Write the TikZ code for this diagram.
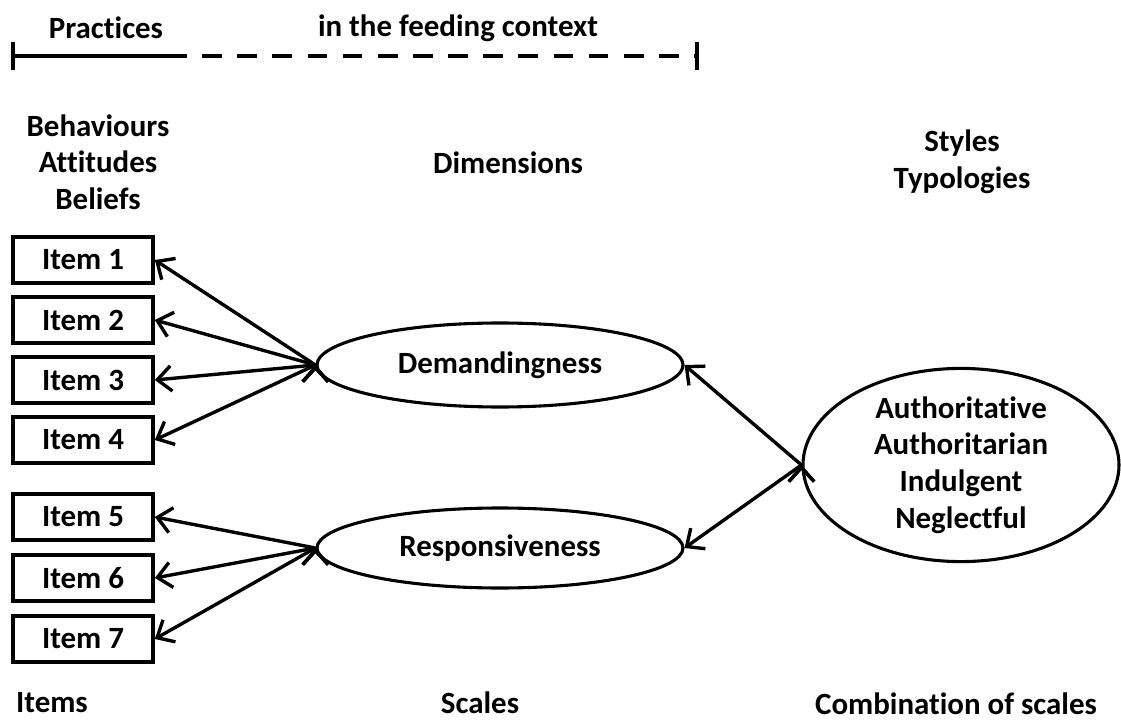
\documentclass[tikz,border=0pt]{standalone}
\usepackage{fontspec}
\setmainfont{Carlito}[RawFeature=-liga]
\usetikzlibrary{shapes.geometric,arrows.meta,positioning}
\tikzset
{
    lbl/.style      = {align=center, font=\bfseries\fontsize{22}{26}\selectfont, inner sep=0pt},
    itembox/.style  = {rectangle, draw=black, line width=2.6pt, minimum width=3.5cm, minimum height=1.15cm, inner sep=0pt, font=\bfseries\fontsize{22}{26}\selectfont},
    scalenode/.style = {ellipse, draw=black, line width=2.2pt, inner sep=0pt, align=center, font=\bfseries\fontsize{22}{26}\selectfont}
}

\begin{document}
\begin{tikzpicture}[->,>={Straight Barb[length=10pt,width=18pt]},line width=2.4pt]
\useasboundingbox (0,0) rectangle (28.025,-18.05);
% top bar
\draw [-,line width=3pt] (0.325,-1.05) -- (0.325,-1.75);
\draw [-,line width=3pt] (0.325,-1.4) -- (4.175,-1.4);
\draw [-,line width=3pt,dash pattern=on 14pt off 11pt] (4.175,-1.4) -- (17.425,-1.4);
\draw [-,line width=3pt] (17.425,-1.05) -- (17.425,-1.75);
\node [lbl] at (2.65,-0.7) (prac) {Practices};
\node [lbl] at (11.45,-0.7) (ctx) {in the feeding context};
% column heads
\node [lbl] at (2.45,-4.05) (bab) {Behaviours\\Attitudes\\Beliefs};
\node [lbl] at (12.7,-4.075) (dim) {Dimensions};
\node [lbl] at (24.05,-4.05) (sty) {Styles\\Typologies};
% items
\node [itembox] at (2.075,-6.5) (i1) {Item 1};
\node [itembox] at (2.075,-8.0) (i2) {Item 2};
\node [itembox] at (2.075,-9.5) (i3) {Item 3};
\node [itembox] at (2.075,-11.0) (i4) {Item 4};
\node [itembox] at (2.075,-12.925) (i5) {Item 5};
\node [itembox] at (2.075,-14.45) (i6) {Item 6};
\node [itembox] at (2.075,-15.975) (i7) {Item 7};
% scales
\node [scalenode, minimum width=9.15cm, minimum height=2.1cm] at (12.5,-9.125) (dem) {Demandingness};
\node [scalenode, minimum width=9.15cm, minimum height=2.0cm] at (12.5,-13.7) (res) {Responsiveness};
\node [scalenode, minimum width=7.9cm, minimum height=4.65cm] at (24.025,-11.625) (typ) {Authoritative\\Authoritarian\\Indulgent\\Neglectful};
\draw (dem.west) edge (i1.east);
\draw (dem.west) edge (i2.east);
\draw (dem.west) edge (i3.east);
\draw (dem.west) edge (i4.east);
\draw (res.west) edge (i5.east);
\draw (res.west) edge (i6.east);
\draw (res.west) edge (i7.east);
\draw (typ.west) edge (dem.east);
\draw (typ.west) edge (res.east);
% bottom labels
\node [lbl] at (1.3,-17.575) (itm) {Items};
\node [lbl] at (12.0,-17.575) (scl) {Scales};
\node [lbl] at (23.9,-17.6) (cmb) {Combination of scales};
\end{tikzpicture}
\end{document}
